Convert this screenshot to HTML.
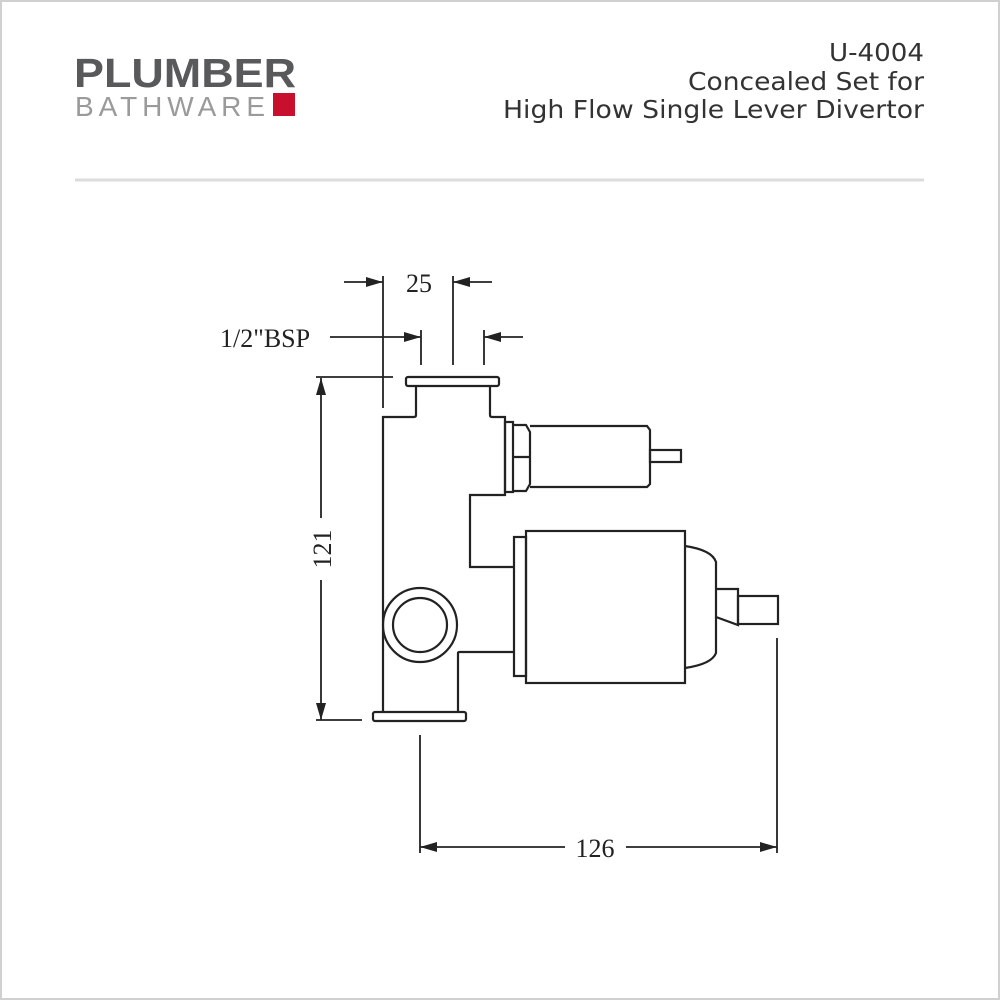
<!DOCTYPE html>
<html><head><style>
html,body{margin:0;padding:0;background:#fff}
.wrap{position:relative;width:1000px;height:1000px;overflow:hidden}
</style></head><body><div class="wrap">
<svg width="1000" height="1000" viewBox="0 0 1000 1000" xmlns="http://www.w3.org/2000/svg">
<rect x="1" y="1" width="998" height="998" fill="#fff" stroke="#d0d0d0" stroke-width="2"/>
<text x="74" y="87" font-family="Liberation Sans, sans-serif" font-weight="bold" font-size="41" fill="#58595b" textLength="222" lengthAdjust="spacingAndGlyphs">PLUMBER</text>
<text x="75" y="116" font-family="Liberation Sans, sans-serif" font-size="28" fill="#9a9a9a" textLength="190" lengthAdjust="spacing">BATHWARE</text>
<rect x="273" y="93" width="22" height="23" fill="#c8102e"/>
<g font-family="DejaVu Sans, Liberation Sans, sans-serif" font-size="25" fill="#333" lengthAdjust="spacingAndGlyphs">
<text x="829" y="61" textLength="95" lengthAdjust="spacingAndGlyphs">U-4004</text>
<text x="688" y="90" textLength="236" lengthAdjust="spacingAndGlyphs">Concealed Set for</text>
<text x="503" y="118" textLength="421" lengthAdjust="spacingAndGlyphs">High Flow Single Lever Divertor</text>
</g>
<line x1="75" y1="180" x2="924" y2="180" stroke="#dcdcdc" stroke-width="3"/>
<g fill="none" stroke="#222" stroke-width="2.2">
<rect x="406" y="377" width="93" height="9" rx="2"/>
<path d="M416 386 V415 Q416 417 414 417 H383 V712"/>
<path d="M490 386 V415 Q490 417 492 417 H505 V495 H470 V567 H514"/>
<rect x="373" y="712" width="93" height="9" rx="2"/>
<path d="M458 712 V653 Q458 652 460 652 H514"/>
<circle cx="420" cy="625" r="37"/>
<circle cx="420" cy="625" r="27"/>
<rect x="505" y="422" width="8" height="70"/>
<path d="M513 425 H526 L530 432 V484 L526 491 H513"/>
<line x1="513" y1="457" x2="530" y2="457"/>
<path d="M530 426 H647 L650 430 V484 L647 487 H530"/>
<rect x="650" y="450" width="31" height="12"/>
<rect x="514" y="537" width="12" height="139"/>
<rect x="526" y="531" width="159" height="152"/>
<path d="M685 546 Q712 550 716 562 V653 Q712 664 685 668"/>
<path d="M716 589 H738 V625 L716 617"/>
<rect x="738" y="596" width="40" height="28"/>
</g>
<g stroke="#222" stroke-width="1.8" fill="none">
<line x1="383" y1="276" x2="383" y2="408"/>
<line x1="344" y1="282" x2="383" y2="282"/>
<line x1="453" y1="276" x2="453" y2="365"/>
<line x1="453" y1="282" x2="492" y2="282"/>
<line x1="330" y1="337" x2="421" y2="337"/>
<line x1="421" y1="330" x2="421" y2="365"/>
<line x1="484" y1="330" x2="484" y2="365"/>
<line x1="484" y1="337" x2="523" y2="337"/>
<line x1="316" y1="377" x2="393" y2="377"/>
<line x1="316" y1="720" x2="362" y2="720"/>
<line x1="321" y1="378" x2="321" y2="518"/>
<line x1="321" y1="580" x2="321" y2="720"/>
<line x1="420" y1="735" x2="420" y2="853"/>
<line x1="777" y1="638" x2="777" y2="853"/>
<line x1="420" y1="847" x2="565" y2="847"/>
<line x1="626" y1="847" x2="777" y2="847"/>
</g>
<g fill="#222">
<path d="M383 282 L366 277 L366 287Z"/>
<path d="M453 282 L470 277 L470 287Z"/>
<path d="M421 337 L404 332 L404 342Z"/>
<path d="M484 337 L501 332 L501 342Z"/>
<path d="M321 378 L316 395 L326 395Z"/>
<path d="M321 720 L316 703 L326 703Z"/>
<path d="M420 847 L437 842 L437 852Z"/>
<path d="M777 847 L760 842 L760 852Z"/>
</g>
<g font-family="Liberation Serif, serif" font-size="26" fill="#222">
<text x="419" y="292" text-anchor="middle">25</text>
<text x="220" y="347">1/2"BSP</text>
<text x="595" y="857" text-anchor="middle">126</text>
<text transform="translate(331 549) rotate(-90)" text-anchor="middle">121</text>
</g>
</svg>
</div></body></html>
